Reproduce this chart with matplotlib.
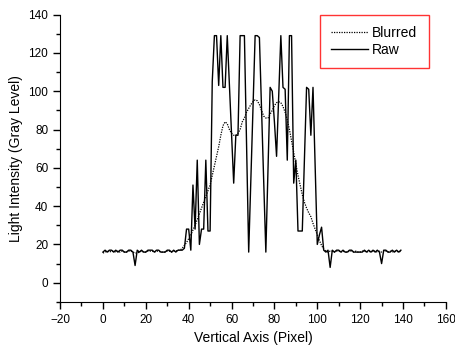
import matplotlib
matplotlib.use('Agg')
import matplotlib.pyplot as plt
from matplotlib.ticker import MultipleLocator
import numpy as np

plt.rcParams['font.family'] = ['Liberation Sans', 'DejaVu Sans']

# pixel index along the vertical axis
pixel = np.arange(140)

raw = [16, 17, 16, 17, 17, 16, 17, 16, 17, 17,   # 0-9
       16, 16, 17, 17, 16, 9, 17, 16, 17, 16,    # 10-19
       16, 17, 17, 17, 16, 17, 17, 16, 16, 16,   # 20-29
       17, 17, 16, 17, 16, 17, 17, 17, 18, 28,   # 30-39
       28, 17, 51, 28, 64, 20, 28, 28, 64, 27,   # 40-49
       27, 105, 129, 129, 103, 129, 102, 102, 129, 103,  # 50-59
       77, 52, 77, 77, 129, 129, 129, 72, 16, 53,  # 60-69
       91, 129, 129, 128, 90, 53, 16, 59, 102, 100,  # 70-79
       84, 66, 97, 129, 102, 101, 64, 129, 129, 52,  # 80-89
       64, 27, 27, 27, 65, 102, 101, 77, 102, 60,  # 90-99
       20, 25, 29, 17, 16, 17, 8, 17, 16, 17,     # 100-109
       17, 16, 17, 16, 16, 17, 17, 16, 16, 16,    # 110-119
       16, 16, 17, 16, 17, 16, 17, 16, 17, 16,    # 120-129
       10, 17, 17, 16, 16, 17, 16, 17, 16, 17]    # 130-139

blurred = [15.5, 16, 16.5, 16, 16.5, 16.5, 16, 16.5, 16, 16.5,
           16, 16, 16.5, 16.5, 16, 15.5, 15.5, 16, 16.5, 16,
           16, 16.5, 16.5, 16.5, 16, 16.5, 16.5, 16, 16, 16,
           16.5, 16.5, 16, 16.5, 16.5, 17, 17, 18, 19.5, 21,
           23, 25, 27.5, 30, 33, 36, 39, 42, 45, 48,
           51, 56, 61, 66, 71, 77, 82, 84, 83, 80,
           78, 77, 77, 78, 80, 84, 86, 89, 91, 93,
           94.5, 95.5, 95, 93, 90, 87, 86, 86, 88, 90,
           92.5, 94, 94.5, 94, 92, 89, 85, 80, 74, 68,
           62, 56, 51, 46, 42, 39, 36.5, 34.5, 31, 28,
           25, 22, 19.5, 17.5, 16.5, 16, 16.5, 16.5, 16, 16.5,
           16.5, 16, 16.5, 16, 16, 16.5, 16.5, 16, 16.5, 16,
           16, 16.5, 16.5, 16, 16.5, 16, 16.5, 16.5, 16, 16.5,
           16, 16.5, 16.5, 16, 16.5, 16, 16.5, 16.5, 16, 16.5]

fig = plt.figure(figsize=(4.55, 3.47), dpi=100)
ax = fig.add_axes([0.132, 0.130, 0.848, 0.828])

ax.plot(pixel, blurred, color='black', linestyle=(0, (1, 1)), linewidth=0.9, label='Blurred')
ax.plot(pixel, raw, color='black', linewidth=1.0, label='Raw')

ax.set_xlim(-20, 160)
ax.set_ylim(-10, 140)
ax.xaxis.set_major_locator(MultipleLocator(20))
ax.xaxis.set_minor_locator(MultipleLocator(10))
ax.yaxis.set_major_locator(MultipleLocator(20))
ax.yaxis.set_minor_locator(MultipleLocator(10))
ax.spines['top'].set_visible(False)
ax.spines['right'].set_visible(False)
ax.tick_params(which='major', direction='out', length=5, width=1, labelsize=8.5)
ax.tick_params(which='minor', direction='out', length=3, width=1)

ax.set_xlabel('Vertical Axis (Pixel)', fontsize=10)
ax.set_ylabel('Light Intensity (Gray Level)', fontsize=10)

leg = ax.legend(loc='upper right', bbox_to_anchor=(0.955, 1.0), borderaxespad=0,
                fontsize=10, frameon=True, fancybox=False, edgecolor='red',
                handlelength=2.7, handletextpad=0.3, borderpad=0.8,
                labelspacing=0.25)
leg.get_frame().set_linewidth(1.0)

fig.savefig('out.png', dpi=100)
